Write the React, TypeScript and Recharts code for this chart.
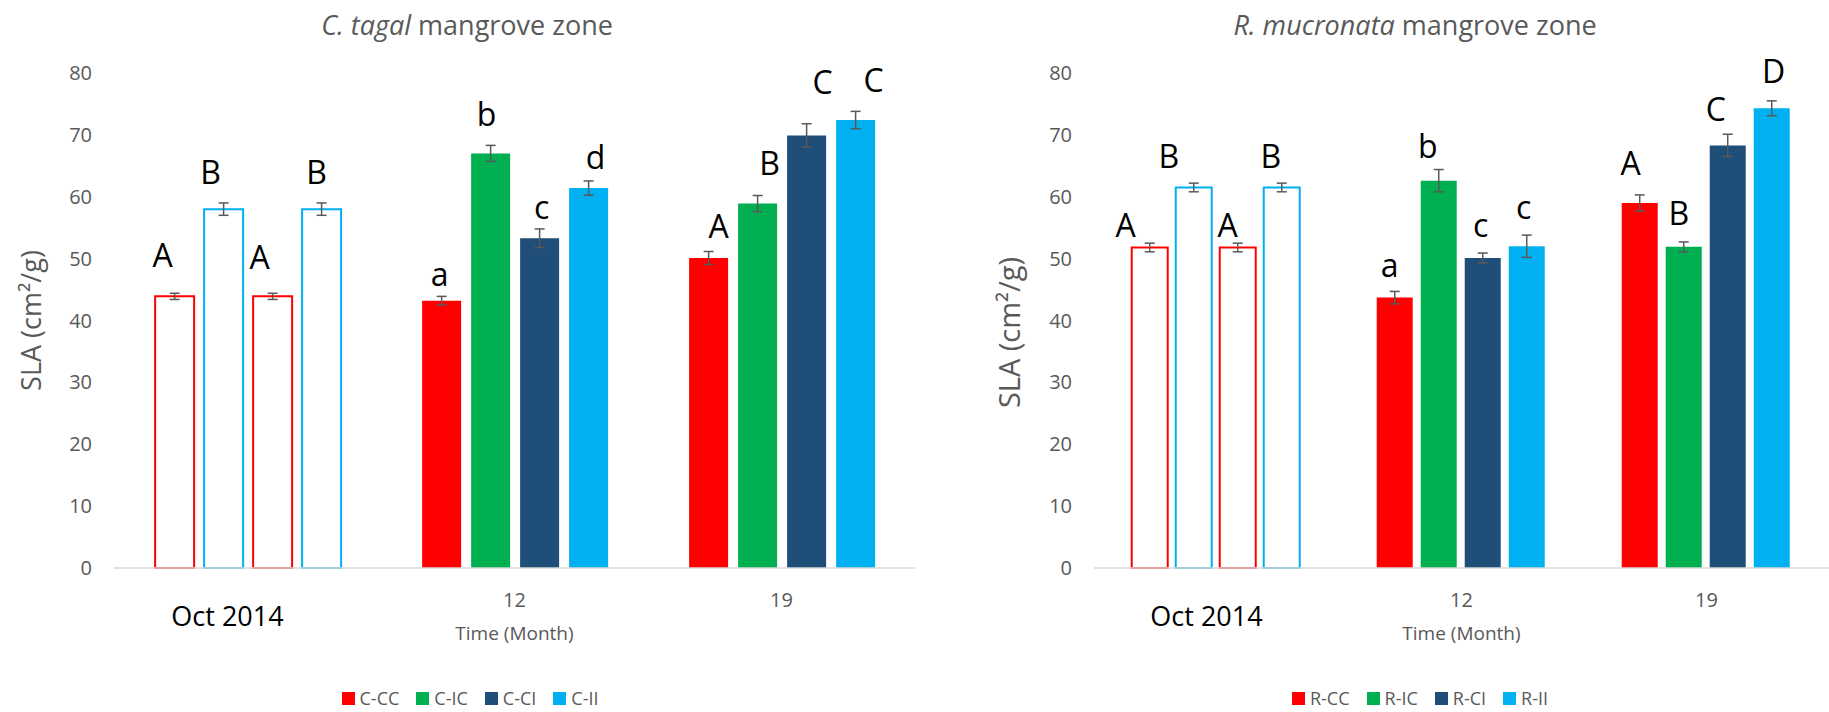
import React from 'react';
import { BarChart, Bar, XAxis, YAxis, ErrorBar, Cell, LabelList } from 'recharts';

// ---------- data ----------
const categories = ['Oct 2014', '12', '19'];
const yTicks = [0, 10, 20, 30, 40, 50, 60, 70, 80];

// C. tagal zone (Oct 2014 slot: CC, II, CC, II baseline bars)
const cCC = [43.9, 43.2, 50.1];
const cCCErr = [0.5, 0.7, 1.05];
const cIC = [58.0, 67.0, 58.9];
const cICErr = [1.0, 1.3, 1.3];
const cCI = [43.9, 53.3, 69.9];
const cCIErr = [0.5, 1.5, 1.9];
const cII = [58.0, 61.4, 72.4];
const cIIErr = [1.0, 1.15, 1.4];
const cLettersCC = ['A', 'a', 'A'];
const cLettersIC = ['B', 'b', 'B'];
const cLettersCI = ['A', 'c', 'C'];
const cLettersII = ['B', 'd', 'C'];

// R. mucronata zone
const rCC = [51.8, 43.7, 59.0];
const rCCErr = [0.7, 1.0, 1.3];
const rIC = [61.5, 62.6, 51.9];
const rICErr = [0.7, 1.8, 0.8];
const rCI = [51.8, 50.1, 68.3];
const rCIErr = [0.7, 0.8, 1.8];
const rII = [61.5, 52.0, 74.3];
const rIIErr = [0.7, 1.8, 1.2];
const rLettersCC = ['A', 'a', 'A'];
const rLettersIC = ['B', 'b', 'B'];
const rLettersCI = ['A', 'c', 'C'];
const rLettersII = ['B', 'c', 'D'];

const cSeriesNames = ['C-CC', 'C-IC', 'C-CI', 'C-II'];
const rSeriesNames = ['R-CC', 'R-IC', 'R-CI', 'R-II'];

// ---------- style ----------
const RED = '#FF0000';
const GREEN = '#00B050';
const DARK = '#1F4E79';
const LIGHT = '#00B0F0';
const GREY = '#595959';
const FONT = '"Open Sans", "Liberation Sans", sans-serif';
const seriesColors = [RED, GREEN, DARK, LIGHT];
const baselineOutline = [RED, LIGHT, RED, LIGHT];

// letter nudges relative to bar (dx) and gap above error bar top
const cLetterDx = [[-12, -2, 10], [-13, -4, 12], [-13, 2, 16], [-5, 7, 18]];
const cLetterGap = [[26, 10, 14], [19, 19, 21], [24, 10, 30], [19, 12, 19]];
const rLetterDx = [[-24, -5, -9], [-25, -11, -5], [-10, -2, -12], [-11, -3, 2]];
const rLetterGap = [[6, 14, 20], [15, 12, 17], [6, 16, 13], [15, 16, 18]];

type Panel = {
  values: number[][];
  errs: number[][];
  letters: string[][];
  names: string[];
  dx: number[][];
  gap: number[][];
};

const cPanel: Panel = {
  values: [cCC, cIC, cCI, cII],
  errs: [cCCErr, cICErr, cCIErr, cIIErr],
  letters: [cLettersCC, cLettersIC, cLettersCI, cLettersII],
  names: cSeriesNames,
  dx: cLetterDx,
  gap: cLetterGap,
};
const rPanel: Panel = {
  values: [rCC, rIC, rCI, rII],
  errs: [rCCErr, rICErr, rCIErr, rIIErr],
  letters: [rLettersCC, rLettersIC, rLettersCI, rLettersII],
  names: rSeriesNames,
  dx: rLetterDx,
  gap: rLetterGap,
};

const keys = ['s0', 's1', 's2', 's3'];

function buildRows(p: Panel) {
  return categories.map((cat, i) => {
    const row: any = { cat };
    keys.forEach((k, s) => {
      row[k] = p.values[s][i];
      row[k + 'Err'] = p.errs[s][i];
    });
    return row;
  });
}

const makeTick = (octDx: number) => (props: any) => {
  const { x, y, payload, index } = props;
  if (index === 0) {
    return (
      <text x={x + octDx} y={y + 58} textAnchor="middle" fill="#000" fontSize={27} fontFamily={FONT}>
        {payload.value}
      </text>
    );
  }
  return (
    <text x={x} y={y + 39} textAnchor="middle" fill={GREY} fontSize={20} fontFamily={FONT}>
      {payload.value}
    </text>
  );
};

const makeYTitle = (dx: number, dy: number, size: number) => (props: any) => {
  const vb = props.viewBox;
  const cx = vb.x + dx;
  const cy = vb.y + vb.height / 2 + dy;
  return (
    <text
      x={cx}
      y={cy}
      transform={`rotate(-90, ${cx}, ${cy})`}
      textAnchor="middle"
      dominantBaseline="central"
      fill={GREY}
      fontSize={size}
      fontFamily={FONT}
    >
      SLA (cm²/g)
    </text>
  );
};

const xTitle = (props: any) => {
  const vb = props.viewBox;
  return (
    <text x={vb.x + vb.width / 2} y={vb.y + 72} textAnchor="middle" fill={GREY} fontSize={19} fontFamily={FONT}>
      Time (Month)
    </text>
  );
};

function PanelChart({
  p,
  width,
  barGap,
  rightMargin,
  octDx,
  yTitleDx,
  yTitleDy,
  yTitleSize,
}: {
  p: Panel;
  width: number;
  barGap: number;
  rightMargin: number;
  octDx: number;
  yTitleDx: number;
  yTitleDy: number;
  yTitleSize: number;
}) {
  const rows = buildRows(p);
  return (
    <BarChart
      width={width}
      height={712}
      data={rows}
      margin={{ top: 73, right: rightMargin, bottom: 0, left: 0 }}
      barCategoryGap="15.4%"
      barGap={barGap}
    >
      <XAxis
        dataKey="cat"
        height={144}
        tickLine={false}
        tickSize={0}
        tickMargin={0}
        axisLine={{ stroke: '#D9D9D9', strokeWidth: 1.5 }}
        tick={makeTick(octDx)}
        interval={0}
        label={xTitle}
      />
      <YAxis
        width={114}
        domain={[0, 80]}
        ticks={yTicks}
        axisLine={false}
        tickLine={false}
        tickSize={0}
        tickMargin={22}
        tick={{ fill: GREY, fontSize: 20, fontFamily: FONT }}
        label={makeYTitle(yTitleDx, yTitleDy, yTitleSize)}
      />
      {keys.map((k, s) => (
        <Bar key={k} dataKey={k} name={p.names[s]} fill={seriesColors[s]} isAnimationActive={false}>
          {rows.map((_, i) =>
            i === 0 ? (
              <Cell key={i} fill="#FFFFFF" stroke={baselineOutline[s]} strokeWidth={2} />
            ) : (
              <Cell key={i} fill={seriesColors[s]} />
            )
          )}
          <ErrorBar dataKey={k + 'Err'} width={5} strokeWidth={1.5} stroke={GREY} direction="y" />
          <LabelList
            dataKey={k}
            content={(lp: any) => {
              const { x, y, width: w, height: h, index } = lp;
              const v = p.values[s][index];
              const e = p.errs[s][index];
              const errTop = y - (e * h) / v;
              return (
                <text
                  x={x + w / 2 + p.dx[s][index]}
                  y={errTop - p.gap[s][index]}
                  textAnchor="middle"
                  fill="#000"
                  fontSize={32}
                  fontFamily={FONT}
                >
                  {p.letters[s][index]}
                </text>
              );
            }}
          />
        </Bar>
      ))}
    </BarChart>
  );
}

function LegendRow({ names, left, width }: { names: string[]; left: number; width: number }) {
  return (
    <div
      style={{
        position: 'absolute',
        left,
        width,
        top: 687,
        display: 'flex',
        justifyContent: 'center',
        alignItems: 'center',
        fontFamily: FONT,
        fontSize: 18,
        color: GREY,
        lineHeight: '22px',
      }}
    >
      {names.map((n, i) => (
        <div key={n} style={{ display: 'flex', alignItems: 'center', marginRight: i < names.length - 1 ? 17 : 0 }}>
          <span style={{ width: 13, height: 13, background: seriesColors[i], display: 'inline-block', marginRight: 5 }} />
          <span>{n}</span>
        </div>
      ))}
    </div>
  );
}

function Title({ italic, rest, left, width }: { italic: string; rest: string; left: number; width: number }) {
  return (
    <div
      style={{
        position: 'absolute',
        left,
        width,
        top: 6,
        textAlign: 'center',
        fontFamily: FONT,
        fontSize: 27,
        color: GREY,
        lineHeight: '37px',
        whiteSpace: 'nowrap',
      }}
    >
      <i>{italic}</i> {rest}
    </div>
  );
}

export default function App() {
  return (
    <div style={{ position: 'absolute', left: 0, top: 0, width: 1829, height: 712, background: '#fff', overflow: 'hidden' }}>
      <div style={{ position: 'absolute', left: 0, top: 0 }}>
        <PanelChart p={cPanel} width={940} barGap={10} rightMargin={25} octDx={-20} yTitleDx={30} yTitleDy={0} yTitleSize={27} />
      </div>
      <div style={{ position: 'absolute', left: 980, top: 0 }}>
        <PanelChart p={rPanel} width={849} barGap={8} rightMargin={0} octDx={-10} yTitleDx={28} yTitleDy={12} yTitleSize={29} />
      </div>
      <Title italic="C. tagal" rest="mangrove zone" left={0} width={934} />
      <Title italic="R. mucronata" rest="mangrove zone" left={1001} width={828} />
      <LegendRow names={cSeriesNames} left={0} width={940} />
      <LegendRow names={rSeriesNames} left={980} width={880} />
    </div>
  );
}
